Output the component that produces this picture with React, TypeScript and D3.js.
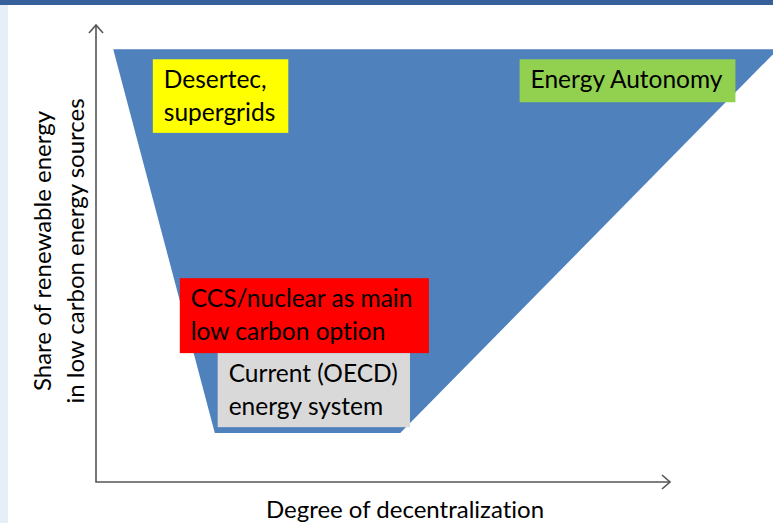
import React from "react";
import * as d3 from "d3";

// conceptual space: decentralization (x) vs share of renewables (y), 0..100
const funnelX = [3, 118.8, 53, 20.7];
const funnelY = [94.7, 94.7, 10.7, 10.7];

const boxNames = ["desertec", "autonomy", "ccs", "current"];
const boxLines = [
  ["Desertec,", "supergrids"],
  ["Energy Autonomy"],
  ["CCS/nuclear as main", "low carbon option"],
  ["Current (OECD)", "energy system"],
];
const boxX0 = [9.9, 73.8, 14.6, 21.2];
const boxX1 = [33.5, 111.4, 58.0, 54.7];
const boxYTop = [92.5, 92.5, 44.6, 28.2];
const boxYBottom = [76.4, 83.1, 28.2, 12.0];
const boxColors = ["#ffff00", "#92d050", "#ff0000", "#d9d9d9"];

const xLabel = "Degree of decentralization";
const yLabel = ["Share of renewable energy", "in low carbon energy sources"];

const W = 773;
const H = 523;
const FONT = "Lato, 'Open Sans', sans-serif";

export default function App() {
  const x = d3.scaleLinear().domain([0, 100]).range([96, 670]);
  const y = d3.scaleLinear().domain([0, 100]).range([482, 25]);

  const funnel = d3.line<number>()
    .x((i) => x(funnelX[i]))
    .y((i) => y(funnelY[i]))
    .curve(d3.curveLinearClosed)(d3.range(funnelX.length));

  const ox = x(0), oy = y(0), xe = x(100), ye = y(100);

  return (
    <>
      <style>{`body{margin:0}`}</style>
      <svg width={W} height={H}
        style={{ display: "block", fontFamily: FONT, fontVariantLigatures: "none" }}>
        <rect x={0} y={0} width={W} height={H} fill="#fff" />
        <rect x={0} y={0} width={W} height={5} fill="#36609a" />
        <rect x={0} y={5} width={8} height={H - 5} fill="#e6eef7" />

        <path d={funnel ?? ""} fill="#4f81bd" />

        {boxNames.map((name, i) => {
          const bx = x(boxX0[i]);
          const by = y(boxYTop[i]);
          return (
            <g key={name}>
              <rect x={bx} y={by} width={x(boxX1[i]) - bx}
                height={y(boxYBottom[i]) - by} fill={boxColors[i]} />
              {boxLines[i].map((t, j) => (
                <text key={j} x={bx + 11} y={by + 29 + j * 32.5}
                  fontSize={24.5} fill="#000">{t}</text>
              ))}
            </g>
          );
        })}

        {/* axes */}
        <g stroke="#555" strokeWidth={1.6} fill="none">
          <path d={`M${ox},${ye}V${oy}H${xe}`} />
          <path d={`M${ox - 7},${ye + 8}L${ox},${ye}L${ox + 7},${ye + 8}`} />
          <path d={`M${xe - 8},${oy - 7}L${xe},${oy}L${xe - 8},${oy + 7}`} />
        </g>

        <text x={405} y={518} textAnchor="middle" fontSize={24} fill="#000">{xLabel}</text>
        {yLabel.map((t, j) => (
          <text key={j} transform={`translate(${51 + j * 33},251) rotate(-90)`}
            textAnchor="middle" fontSize={24} fill="#000">{t}</text>
        ))}
      </svg>
    </>
  );
}
